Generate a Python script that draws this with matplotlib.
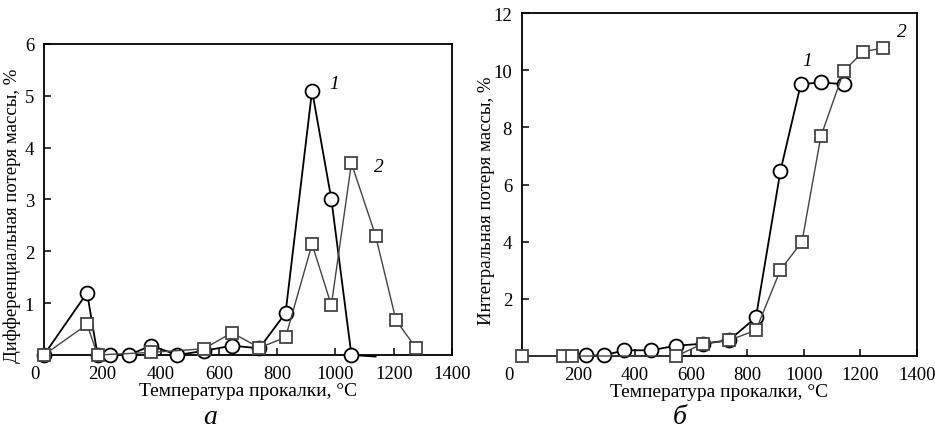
import matplotlib
matplotlib.use("Agg")
import matplotlib.pyplot as plt
import matplotlib.transforms as mtransforms

plt.rcParams['font.family'] = ['Liberation Serif', 'DejaVu Serif']
plt.rcParams['font.size'] = 13

# (а) дифференциальная потеря массы
t_a1 = [0, 148, 184, 228, 291, 368, 458, 549, 645, 739, 829, 920, 986, 1055, 1138]
d_a1 = [0, 1.2, 0, 0, 0, 0.18, 0, 0.08, 0.18, 0.13, 0.81, 5.1, 3.01, 0, -0.03]
t_a2 = [0, 148, 184, 368, 549, 645, 739, 829, 920, 986, 1055, 1138, 1208, 1276]
d_a2 = [0, 0.59, 0, 0.05, 0.12, 0.43, 0.14, 0.34, 2.14, 0.96, 3.7, 2.3, 0.67, 0.14]

# (б) интегральная потеря массы
t_b1 = [226, 290, 364, 457, 548, 642, 735, 830, 917, 989, 1059, 1142]
i_b1 = [0.02, 0.02, 0.2, 0.2, 0.36, 0.43, 0.55, 1.35, 6.48, 9.51, 9.57, 9.51]
t_b2 = [0, 145, 178, 548, 642, 735, 830, 917, 993, 1060, 1142, 1211, 1279]
i_b2 = [0, 0, 0, 0, 0.43, 0.55, 0.9, 3.02, 3.99, 7.68, 9.98, 10.65, 10.77]

x_ticks = [0, 200, 400, 600, 800, 1000, 1200, 1400]
xlabel = 'Температура прокалки, °C'

fig = plt.figure(figsize=(9.35, 4.35), dpi=100)
ax1 = fig.add_axes([0.047, 0.1816, 0.4364, 0.715])
ax2 = fig.add_axes([0.558, 0.1793, 0.4225, 0.7885])

black = '#000000'
grey = '#444444'

def series(ax, t, v, col, mk, ms, lw, z, every=None):
    ax.plot(t, v, color=col, lw=lw, marker=mk, ms=ms, mfc='white',
            mec=col, mew=1.3, clip_on=False, zorder=z, markevery=every)

# панель а
series(ax1, t_a1, d_a1, black, 'o', 10, 1.3, 3, every=list(range(len(t_a1) - 1)))
series(ax1, t_a2, d_a2, grey, 's', 9, 1.0, 4)
ax1.set_xlim(0, 1400)
ax1.set_ylim(0, 6)
ax1.set_yticks([1, 2, 3, 4, 5, 6])
ax1.set_ylabel('Дифференциальная потеря массы, %', fontsize=13.5)
ax1.yaxis.set_label_coords(-0.056, 0.45)
ax1.text(979, 5.23, '1', style='italic', fontsize=14, va='center')
ax1.text(1134, 3.64, '2', style='italic', fontsize=14, va='center')

# панель б
series(ax2, t_b1, i_b1, black, 'o', 10, 1.3, 3)
series(ax2, t_b2, i_b2, grey, 's', 9, 1.0, 4)
ax2.set_xlim(0, 1400)
ax2.set_ylim(0, 12)
ax2.set_yticks([2, 4, 6, 8, 10, 12])
ax2.set_ylabel('Интегральная потеря массы, %', fontsize=13.5)
ax2.yaxis.set_label_coords(-0.068, 0.457)
ax2.text(996, 10.35, '1', style='italic', fontsize=14, va='center')
ax2.text(1330, 11.36, '2', style='italic', fontsize=14, va='center')

for ax, shift in ((ax1, -9), (ax2, -13)):
    ax.set_xticks(x_ticks)
    ax.set_xlabel(xlabel, labelpad=0, fontsize=14)
    ax.tick_params(direction='in', length=5, width=1.1, pad=7,
                   top=False, right=False, labelsize=13.5)
    for s in ax.spines.values():
        s.set_linewidth(1.3)
    # подпись "0" в оригинале сдвинута влево
    lbl = ax.get_xticklabels()[0]
    lbl.set_transform(lbl.get_transform() +
                      mtransforms.ScaledTranslation(shift / 100, 0, fig.dpi_scale_trans))

fig.text(210 / 935, 17 / 435, 'а', style='italic', fontsize=20, ha='center', va='center')
fig.text(680 / 935, 17 / 435, 'б', style='italic', fontsize=20, ha='center', va='center')

fig.savefig('out.png', dpi=100)
